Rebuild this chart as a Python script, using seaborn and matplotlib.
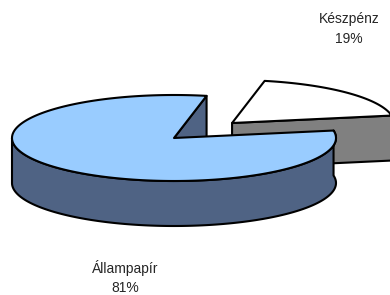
import numpy as np
import matplotlib
matplotlib.use("Agg")
import matplotlib.pyplot as plt
from matplotlib.patches import Polygon
import seaborn as sns

sns.set_style("white")
plt.rcParams['font.family'] = ['Liberation Sans', 'DejaVu Sans']

categories = ["Készpénz", "Állampapír"]
values = [19, 81]
pct_labels = ["19%", "81%"]

top_colors = ["#FFFFFF", "#99CCFF"]
side_colors = ["#808080", "#4F6384"]

fig = plt.figure(figsize=(3.9, 2.95), dpi=100)
ax = fig.add_axes([0, 0, 1, 1])
ax.set_xlim(0, 390)
ax.set_ylim(295, 0)
ax.axis("off")

cx, cy = 174, 138
a, b, h = 162, 43, 45
start = 10.0
explode = [0.5, 0.0]
lw = 1.5

total = sum(values)
angles = []
s = start
for v in values:
    e = s + 360.0 * v / total
    angles.append((s, e))
    s = e

def pt(c, t, dz=0.0):
    r = np.radians(t)
    return (c[0] + a * np.cos(r), c[1] - b * np.sin(r) + dz)

def draw_slice(i):
    s, e = angles[i]
    mid = np.radians((s + e) / 2)
    c = (cx + explode[i] * a * np.cos(mid), cy - explode[i] * b * np.sin(mid))
    top, side = top_colors[i], side_colors[i]
    faces = []
    if np.cos(np.radians(s)) > 0:
        faces.append(s)
    if np.cos(np.radians(e)) < 0:
        faces.append(e)
    for f in faces:
        poly = [c, pt(c, f), pt(c, f, h), (c[0], c[1] + h)]
        ax.add_patch(Polygon(poly, closed=True, fc=side, ec="black", lw=lw, joinstyle="round"))
    if i == 1:
        tt = np.linspace(180, e, 400)
        upper = [pt(c, t) for t in tt]
        lower = [pt(c, t, h) for t in tt[::-1]]
        ax.add_patch(Polygon(upper + lower, closed=True, fc=side, ec="black", lw=lw, joinstyle="round"))
    arc = [pt(c, t) for t in np.linspace(s, e, 400)]
    ax.add_patch(Polygon([c] + arc, closed=True, fc=top, ec="black", lw=lw, joinstyle="round"))

draw_slice(0)
draw_slice(1)

fs = 10
ax.text(349, 19, categories[0], ha="center", va="center", fontsize=fs)
ax.text(349, 39, pct_labels[0], ha="center", va="center", fontsize=fs)
ax.text(125, 268, categories[1], ha="center", va="center", fontsize=fs)
ax.text(125, 288, pct_labels[1], ha="center", va="center", fontsize=fs)

fig.savefig("out.png", dpi=100)
